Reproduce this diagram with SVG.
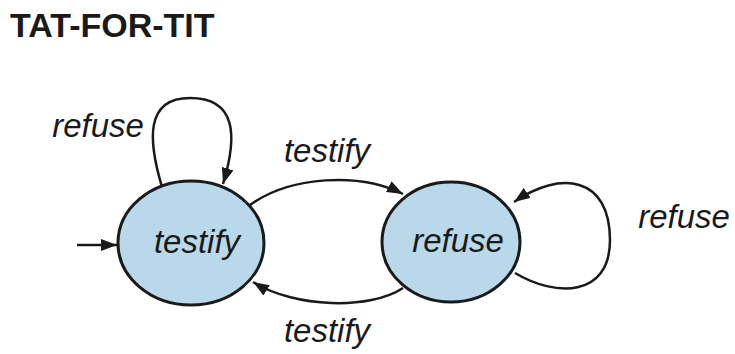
<svg xmlns="http://www.w3.org/2000/svg" width="735" height="354" viewBox="0 0 735 354">
<defs>
<marker id="ah" markerUnits="userSpaceOnUse" markerWidth="18" markerHeight="12" refX="16" refY="6" orient="auto">
<path d="M0,0 L16,6 L0,12 z" fill="#1a1a1a"/>
</marker>
<style>
.title{font-family:"Liberation Sans",Arial,sans-serif;font-weight:bold;font-size:34px;fill:#1a1a1a}
.lbl{font-family:"Liberation Sans",Arial,sans-serif;font-style:italic;font-size:33px;fill:#1a1a1a}
.state{fill:#b9d9ea;stroke:#1a1a1a;stroke-width:3}
.edge{fill:none;stroke:#1a1a1a;stroke-width:2.5;marker-end:url(#ah)}
</style>
</defs>
<rect width="735" height="354" fill="#ffffff"/>
<text class="title" x="10" y="37">TAT-FOR-TIT</text>
<g id="connectors">
<path class="edge" d="M77,245 L117,245"/>
<path class="edge" d="M162,187 C148,140 145,98 190,98 C236,98 238,135 223,184"/>
<path class="edge" d="M250,205 C290,176 360,172 403,194"/>
<path class="edge" d="M403,288 C370,310 295,308 253,282"/>
<path class="edge" d="M515,273 C555,297 610,298 610,240 C610,176 560,170 514,202"/>
</g>
<g id="labels">
<text class="lbl" x="98" y="137" text-anchor="middle">refuse</text>
<text class="lbl" x="327" y="162" text-anchor="middle">testify</text>
<text class="lbl" x="684" y="228" text-anchor="middle">refuse</text>
<text class="lbl" x="327" y="342" text-anchor="middle">testify</text>
</g>
<g id="node-testify">
<ellipse class="state" cx="191" cy="243" rx="73" ry="62"/>
<text class="lbl" x="197" y="253" text-anchor="middle">testify</text>
</g>
<g id="node-refuse">
<ellipse class="state" cx="451" cy="242" rx="69" ry="60"/>
<text class="lbl" x="458" y="252" text-anchor="middle">refuse</text>
</g>
</svg>
